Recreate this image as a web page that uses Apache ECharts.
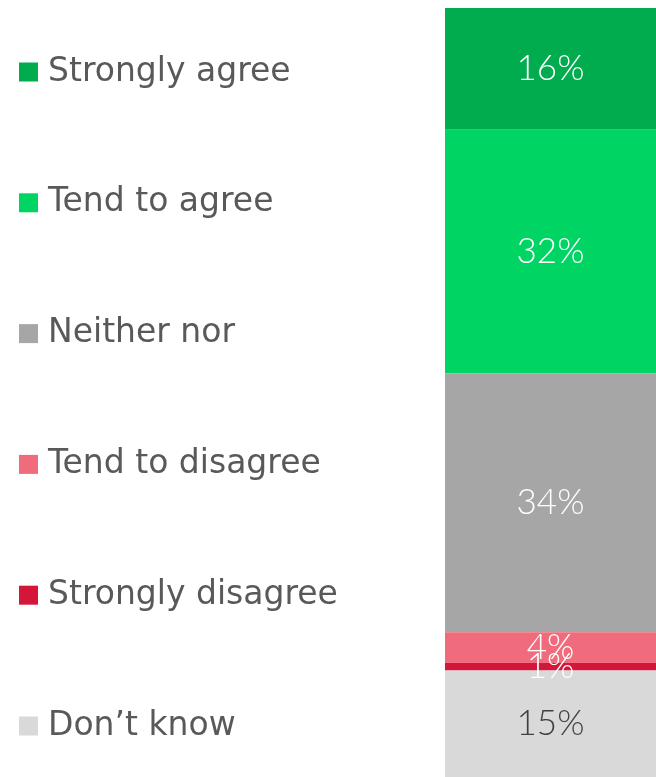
<!DOCTYPE html>
<html>
<head>
<meta charset="utf-8">
<script src="https://cdn.jsdelivr.net/npm/echarts@6/dist/echarts.min.js"></script>
<style>
html,body{margin:0;padding:0;background:#fff;}
#c{width:656px;height:777px;}
</style>
</head>
<body>
<div id="c"></div>
<script>
const categories = ['Total'];
const seriesNames = ['Strongly agree', 'Tend to agree', 'Neither nor', 'Tend to disagree', 'Strongly disagree', "Don\u2019t know"];
const seriesValues = [16, 32, 34, 4, 1, 15];
const seriesColors = ['#00AC4E', '#00D563', '#A6A6A6', '#F06C7D', '#D4163A', '#D9D9D9'];
const labelColors = ['#FFFFFF', '#FFFFFF', '#FFFFFF', '#FFFFFF', '#FFFFFF', '#404040'];
// visible axis range (the bottom of the bar is cropped in the reference)
const axisMax = 101;

const FONT = 'DejaVu Sans';
const LABEL_FONT = 'Lato';
const chart = echarts.init(document.getElementById('c'), null, {renderer: 'canvas'});

chart.setOption({
  animation: false,
  backgroundColor: '#ffffff',
  grid: {left: 445, right: 0, top: 8, bottom: 0},
  xAxis: {type: 'category', data: categories, show: false},
  yAxis: {type: 'value', min: 0, max: axisMax, inverse: true, show: false},
  legend: {
    orient: 'vertical',
    left: 19,
    top: 54,
    padding: 0,
    itemWidth: 19,
    itemHeight: 19,
    itemGap: 94.8,
    icon: 'rect',
    data: seriesNames,
    textStyle: {fontFamily: FONT, fontSize: 33, color: '#595959', lineHeight: 36, padding: [0, 0, 0, 5]}
  },
  series: seriesNames.map((name, i) => ({
    name: name,
    type: 'bar',
    stack: 'total',
    barWidth: '100%',
    clip: true,
    data: [seriesValues[i]],
    itemStyle: {color: seriesColors[i]},
    label: {
      show: true,
      position: 'inside',
      formatter: '{c}%',
      color: labelColors[i],
      fontFamily: LABEL_FONT,
      fontSize: 35,
      fontWeight: 300
    }
  }))
});
</script>
</body>
</html>
